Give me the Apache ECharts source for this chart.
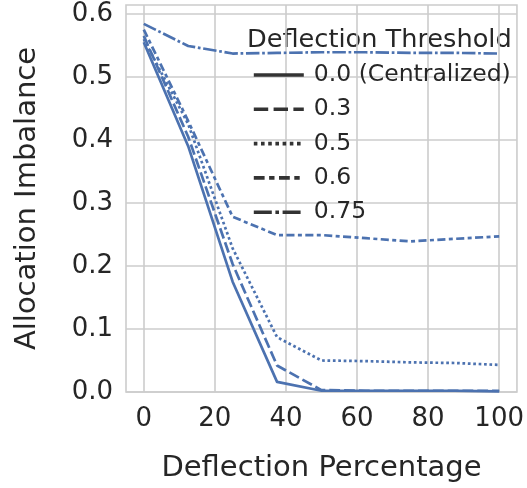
<!DOCTYPE html>
<html>
<head>
<meta charset="utf-8">
<script src="https://cdn.jsdelivr.net/npm/echarts@6/dist/echarts.min.js"></script>
<style>
html,body{margin:0;padding:0;background:#fff;}
#chart{width:527px;height:488px;}
</style>
</head>
<body>
<div id="chart"></div>
<script>
// ---- data ----
const xValues = [0, 12.5, 25, 37.5, 50, 62.5, 75, 87.5, 100];
const seriesNames = ['0.0 (Centralized)', '0.3', '0.5', '0.6', '0.75'];
const valsCentralized = [0.555, 0.390, 0.175, 0.016, 0.002, 0.002, 0.002, 0.002, 0.001];
const vals03 = [0.565, 0.405, 0.203, 0.042, 0.003, 0.002, 0.002, 0.002, 0.002];
const vals05 = [0.560, 0.425, 0.228, 0.087, 0.050, 0.049, 0.047, 0.046, 0.043];
const vals06 = [0.575, 0.430, 0.278, 0.249, 0.249, 0.244, 0.239, 0.243, 0.247];
const vals075 = [0.584, 0.549, 0.537, 0.538, 0.539, 0.539, 0.538, 0.538, 0.537];
const xTicks = [0, 20, 40, 60, 80, 100];
const yTicks = [0, 0.1, 0.2, 0.3, 0.4, 0.5, 0.6];

const allVals = [valsCentralized, vals03, vals05, vals06, vals075];
const lw = 2.7;
const plotDash = ['solid', [10.8, 4], [2.7, 2.7], [8.1, 3.4, 4, 3.4], [13.5, 2.7, 2.7, 2.7]];
const lw2 = 3.6;
const legDash = ['solid', [14.4, 5.4], [3.6, 3.6], [10.8, 4.5, 5.4, 4.5], [18, 3.6, 3.6, 3.6]];
const blue = '#4c72b0';
const txt = '#262626';
const gridC = '#cccccc';
const FONT = 'DejaVu Sans';

const chart = echarts.init(document.getElementById('chart'), null, {renderer: 'canvas'});
const option = {
  backgroundColor: '#ffffff',
  animation: false,
  textStyle: {fontFamily: FONT, color: txt},
  grid: {left: 126, right: 8, top: 5, bottom: 93, show: true, borderColor: gridC, borderWidth: 1.6, containLabel: false},
  xAxis: {
    type: 'value', min: -5, max: 105,
    name: 'Deflection Percentage', nameLocation: 'middle', nameGap: 62,
    nameTextStyle: {fontSize: 29, color: txt, fontFamily: FONT},
    axisLine: {show: false},
    axisTick: {show: false, customValues: xTicks},
    axisLabel: {customValues: xTicks, fontSize: 26, color: txt, margin: 14, fontFamily: FONT},
    splitLine: {show: true, lineStyle: {color: gridC, width: 1.6}}
  },
  yAxis: {
    type: 'value', min: 0, max: 0.614,
    name: 'Allocation Imbalance', nameLocation: 'middle', nameGap: 84,
    nameTextStyle: {fontSize: 29, color: txt, fontFamily: FONT},
    axisLine: {show: false},
    axisTick: {show: false, customValues: yTicks},
    axisLabel: {customValues: yTicks, fontSize: 26, color: txt, margin: 13, fontFamily: FONT,
      formatter: v => v.toFixed(1)},
    splitLine: {show: true, lineStyle: {color: gridC, width: 1.6}}
  },
  legend: {
    orient: 'vertical', left: 247, top: 58,
    itemWidth: 50, itemHeight: 22, itemGap: 10.3,
    itemStyle: {opacity: 0},
    textStyle: {fontSize: 23.5, lineHeight: 22, color: txt, fontFamily: FONT, padding: [0, 0, 0, 5]},
    data: seriesNames.map((n, i) => ({
      name: n,
      itemStyle: {opacity: 0},
      lineStyle: {color: '#333333', width: lw2, type: legDash[i], cap: 'butt'}
    }))
  },
  graphic: [{
    type: 'text', x: 247, y: 40,
    style: {text: 'Deflection Threshold', font: '25.6px "DejaVu Sans"', fill: txt, verticalAlign: 'middle'}
  }],
  series: seriesNames.map((n, i) => ({
    name: n, type: 'line', symbol: 'none',
    data: xValues.map((x, j) => [x, allVals[i][j]]),
    lineStyle: {color: blue, width: lw, type: plotDash[i], cap: 'butt', join: 'round'},
    itemStyle: {color: blue},
    clip: false
  }))
};
chart.setOption(option);
</script>
</body>
</html>
